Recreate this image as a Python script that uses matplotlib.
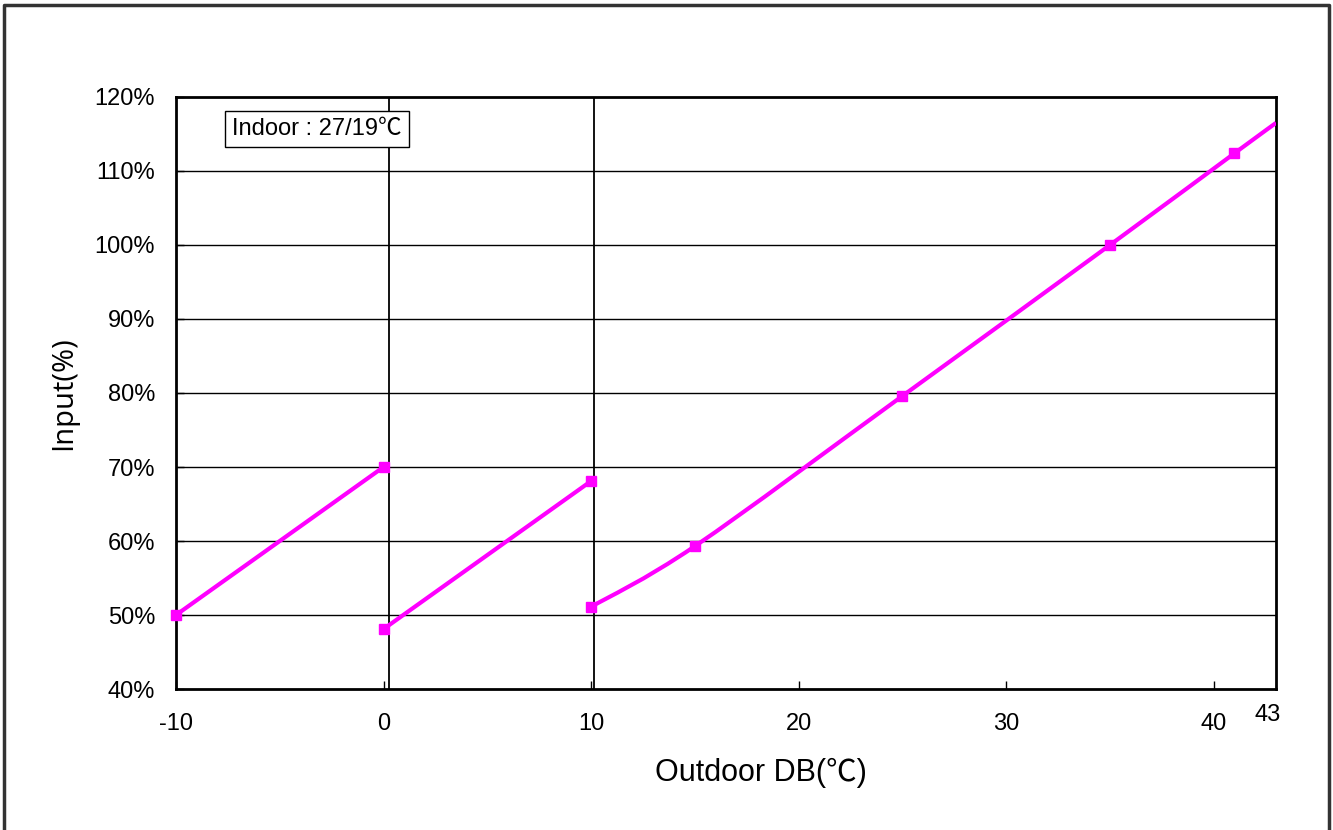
import matplotlib.pyplot as plt
import numpy as np
from matplotlib.path import Path
from matplotlib.patches import PathPatch

plt.rcParams["font.family"] = ["Liberation Sans", "Noto Sans CJK SC", "DejaVu Sans"]
plt.rcParams["axes.unicode_minus"] = False

# segment data (outdoor DB, input %)
seg1_x = [-10, 0]
seg1_y = [50.0, 70.0]
seg2_x = [0, 10]
seg2_y = [48.1, 68.1]
seg3_x = [10, 15, 25, 35, 41]
seg3_y = [51.1, 59.3, 79.6, 100.0, 112.4]
seg3_end_x = 43
seg3_end_y = 116.5

xticks = [-10, 0, 10, 20, 30, 40]
yticks = [40, 50, 60, 70, 80, 90, 100, 110, 120]
divider_x = [0.25, 10.15]

MAGENTA = "#ff00ff"


def smooth_path(xs, ys):
    # Catmull-Rom style bezier, like a spreadsheet "smoothed line"
    pts = np.column_stack([xs, ys])
    verts = [pts[0]]
    codes = [Path.MOVETO]
    n = len(pts)
    for i in range(n - 1):
        p0 = pts[i - 1] if i > 0 else pts[i]
        p1 = pts[i]
        p2 = pts[i + 1]
        p3 = pts[i + 2] if i + 2 < n else pts[i + 1]
        c1 = p1 + (p2 - p0) / 6.0
        c2 = p2 - (p3 - p1) / 6.0
        verts += [c1, c2, p2]
        codes += [Path.CURVE4] * 3
    return Path(verts, codes)


fig = plt.figure(figsize=(13.33, 8.3), dpi=100)
ax = fig.add_axes([176 / 1333, 1 - 689 / 830, 1100 / 1333, 592 / 830])

# outer frame (left, top, right)
fig.add_artist(plt.Line2D([4 / 1333, 4 / 1333, 1329 / 1333, 1329 / 1333],
                          [0, 1 - 5 / 830, 1 - 5 / 830, 0],
                          transform=fig.transFigure, color="#333333", lw=2.5))

for y in yticks[1:-1]:
    ax.axhline(y, color="black", lw=1.0, zorder=1)
for x in divider_x:
    ax.axvline(x, color="black", lw=1.3, zorder=1)

ax.plot(seg1_x, seg1_y, color=MAGENTA, lw=3, marker="s", ms=7, zorder=3, clip_on=False)
ax.plot(seg2_x, seg2_y, color=MAGENTA, lw=3, marker="s", ms=7, zorder=3, clip_on=False)

curve = smooth_path(seg3_x + [seg3_end_x], seg3_y + [seg3_end_y])
ax.add_patch(PathPatch(curve, facecolor="none", edgecolor=MAGENTA, lw=3, zorder=3))
ax.plot(seg3_x, seg3_y, ls="none", color=MAGENTA, marker="s", ms=7, zorder=4, clip_on=False)

ax.set_xlim(-10, 43)
ax.set_ylim(40, 120)
ax.set_xticks(xticks)
ax.set_yticks(yticks)
ax.set_yticklabels([f"{v}%" for v in yticks])
ax.tick_params(axis="both", direction="in", length=6, width=1, labelsize=17)
ax.tick_params(axis="x", pad=17)
ax.tick_params(axis="y", pad=15)
for s in ax.spines.values():
    s.set_linewidth(2)

ax.annotate("43", xy=(43, 40), xytext=(-6, -11), textcoords="offset points",
            ha="center", va="top", fontsize=17, annotation_clip=False)

ax.set_xlabel("Outdoor DB(℃)", fontsize=22)
ax.xaxis.set_label_coords(0.532, -0.142)
ax.xaxis.label.set_va("center")
ax.set_ylabel("Input(%)", fontsize=21, labelpad=12, family=["Open Sans", "DejaVu Sans"])

ax.text(-7.3, 115.7, "Indoor : 27/19℃", fontsize=17, ha="left", va="center", zorder=5,
        bbox=dict(boxstyle="square,pad=0.3", facecolor="white", edgecolor="black", lw=1))

fig.savefig("out.png", dpi=100)
